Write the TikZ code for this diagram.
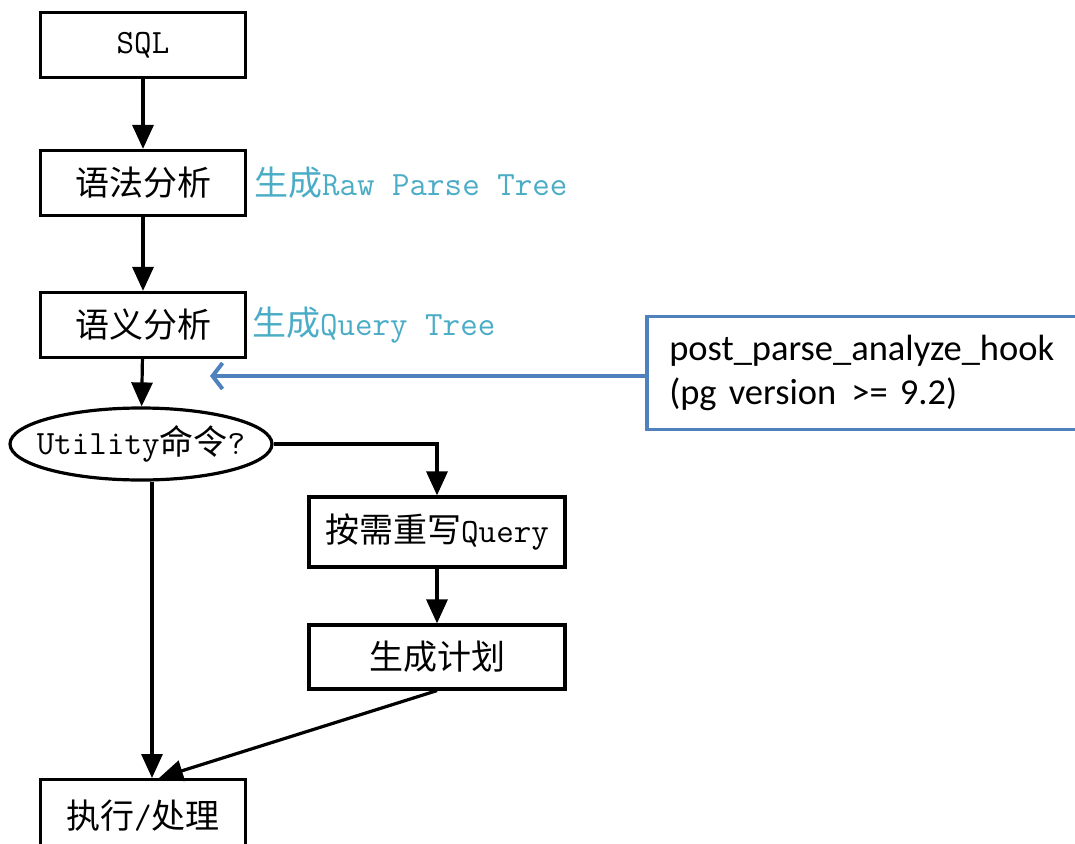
\documentclass[tikz,border=0pt]{standalone}
\usepackage{fontspec}
\newfontfamily\cjk{Noto Sans CJK SC}
\newfontfamily\calib{Carlito}
\usetikzlibrary{arrows.meta,shapes.geometric}
\definecolor{hookblue}{HTML}{4F81BD}
\definecolor{labcyan}{HTML}{4BACC6}
\newcommand\zh[1]{{\cjk\fontsize{34}{38}\selectfont #1}}
\newcommand\tx[1]{{\ttfamily\fontsize{34}{38}\selectfont #1}}
\tikzset{
  flowbox/.style={draw=black,line width=3.2pt,rectangle,minimum width=205pt,minimum height=65pt,inner sep=0pt},
  flowell/.style={draw=black,line width=3.2pt,ellipse,minimum width=262pt,minimum height=72pt,inner sep=0pt},
  arr/.style={line width=3.2pt,-{Triangle[length=24pt,width=21pt]}},
  lab/.style={anchor=west,inner sep=0pt,text=labcyan},
  hookbox/.style={draw=hookblue,line width=3.5pt,rectangle,minimum width=445pt,minimum height=113pt,inner xsep=22pt,text width=400pt,align=left,anchor=west,font=\calib\fontsize{36.5}{44}\selectfont},
  hookarr/.style={draw=hookblue,line width=4pt,-{Straight Barb[length=10pt,width=26pt,line width=4pt]}}
}
\begin{document}
\begin{tikzpicture}[x=1pt,y=-1pt]
\useasboundingbox (0,0) rectangle (1075,843);
\clip (0,0) rectangle (1075,843);
\node[flowbox] (sql) at (143,45) {\tx{SQL}};
\node[flowbox] (syn) at (143,183) {\zh{语法分析}};
\node[flowbox] (sem) at (143,325) {\zh{语义分析}};
\node[flowell] (ell) at (141,444) {\makebox[0pt][c]{\tx{Utility}\zh{命令}\tx{?}}};
\node[flowbox,minimum width=256pt,minimum height=70pt] (rew) at (437,532) {\zh{按需重写}\tx{Query}};
\node[flowbox,minimum width=256pt,minimum height=64pt] (plan) at (437,657) {\zh{生成计划}};
\node[flowbox,minimum height=72pt,anchor=north] (exec) at (143,778) {\raisebox{2pt}{\zh{执行}\tx{/}\zh{处理}}};
\node[lab] (l1) at (254,183) {\zh{生成}\tx{Raw Parse Tree}};
\node[lab] (l2) at (252,325) {\zh{生成}\tx{Query Tree}};
\node[hookbox] (hook) at (645,373) {post\_parse\_analyze\_hook\\(pg version\hspace{3pt} >= 9.2)};
\coordinate (hp) at (210,376);
\coordinate (vx) at (152,0);
\draw[arr] (sql) -- (syn);
\draw[arr] (syn) -- (sem);
\draw[arr] (sem) -- (ell);
\draw[arr] (ell.east) -| (rew.north);
\draw[arr] (rew) -- (plan);
\draw[arr] (ell.south -| vx) -- (exec.north -| vx);
\draw[arr] (plan.south) -- ([xshift=16pt]exec.north);
\draw[hookarr] (hook.west |- hp) -- (hp);
\end{tikzpicture}
\end{document}
